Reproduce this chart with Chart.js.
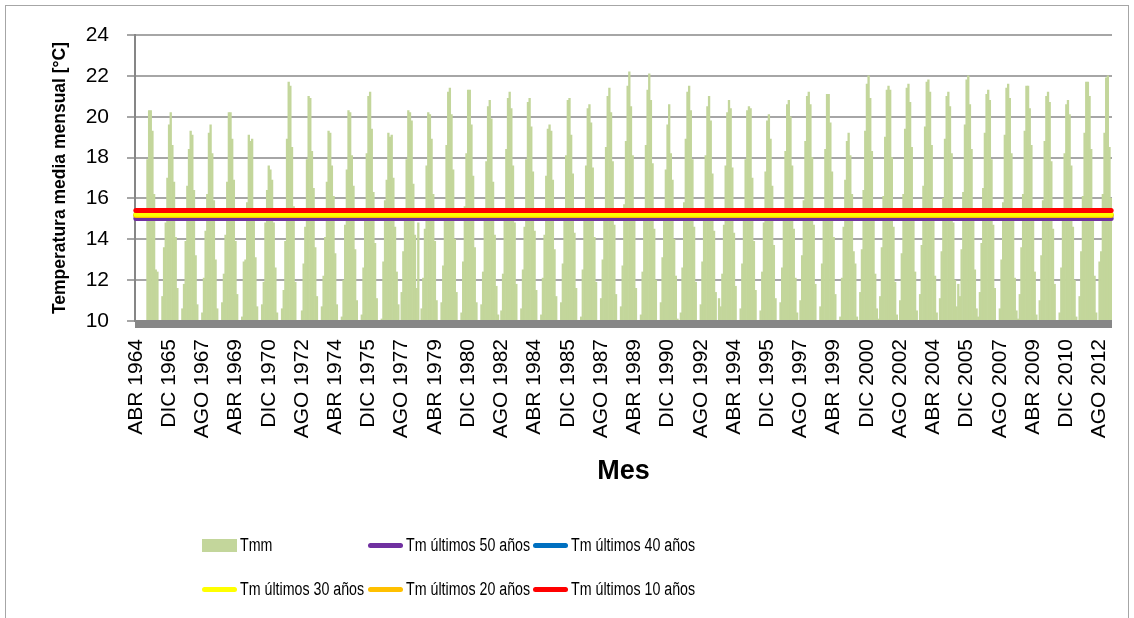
<!DOCTYPE html>
<html>
<head>
<meta charset="utf-8">
<script src="https://cdn.jsdelivr.net/npm/chart.js@4"></script>
<style>
  body { margin: 0; background: #fff; }
  #wrap { position: relative; width: 1134px; height: 618px; overflow: hidden; background: #fff; }
  #frame { position: absolute; left: 5px; top: 5px; width: 1122px; height: 700px; border: 1px solid #a6a6a6; pointer-events: none; }
  .leg { position: absolute; display: flex; align-items: center; font-family: 'Liberation Sans', sans-serif; font-size: 18px; color: #000; white-space: nowrap; }
  .leg .tx { display: inline-block; transform: scaleX(0.79); transform-origin: left center; }
  .sw { width: 35px; margin-right: 3px; flex: none; }
</style>
</head>
<body>
<div id="wrap">
  <canvas id="myChart" width="1134" height="618"></canvas>
  <div id="frame"></div>
  <div id="legend"></div>
</div>
<script>
// Month names and the start of the series (ABR 1964)
var months = ['ENE', 'FEB', 'MAR', 'ABR', 'MAY', 'JUN', 'JUL', 'AGO', 'SEP', 'OCT', 'NOV', 'DIC'];
var startYear = 1964;
var startMonth = 3;

// Tmm: monthly mean temperature, one line per year
var tmm = [
  null, null, null, null, null, null, null, 17.9, 20.3,                 // 1964 (ABR-DIC)
  20.3, 19.3, 16.2, 12.5, 12.4, 9.6, 9.2, 11.2, 13.6, 14.8, 17.0, 19.6, // 1965
  20.2, 18.6, 16.8, 14.1, 11.6, 9.3, 8.9, 10.6, 11.8, 13.9, 16.6, 18.4, // 1966
  19.3, 19.1, 16.4, 13.2, 10.8, 9.1, 9.4, 10.4, 12.1, 14.4, 16.2, 19.2, // 1967
  19.6, 18.2, 15.9, 13.0, 10.6, 8.8, 9.0, 10.9, 12.3, 14.2, 16.8, 20.2, // 1968
  20.2, 18.9, 16.9, 13.9, 11.3, 9.5, 9.2, 10.2, 12.9, 13.0, 15.8, 19.1, // 1969
  18.8, 18.9, 15.4, 13.1, 10.7, 9.4, 9.6, 10.8, 11.9, 14.8, 16.4, 17.6, // 1970
  17.4, 16.9, 14.8, 12.6, 10.4, 9.0, 9.3, 10.6, 11.5, 13.9, 18.9, 21.7, // 1971
  21.5, 18.5, 15.6, 11.9, 9.8, 9.2, 9.1, 10.5, 12.8, 14.6, 17.9, 21.0,  // 1972
  20.9, 18.3, 16.5, 13.6, 11.2, 9.4, 9.0, 10.7, 12.2, 14.1, 16.8, 19.3, // 1973
  19.2, 17.6, 16.1, 13.3, 10.8, 9.1, 9.3, 10.2, 12.0, 14.7, 17.4, 20.3, // 1974
  20.2, 18.1, 16.6, 13.5, 11.0, 9.6, 9.4, 10.3, 12.6, 15.0, 18.2, 21.0, // 1975
  21.2, 19.4, 16.3, 13.8, 11.1, 9.2, 8.9, 10.1, 12.9, 15.9, 16.9, 19.2, // 1976
  19.0, 19.1, 17.0, 14.6, 12.4, 10.8, 9.5, 11.4, 13.4, 15.2, 17.9, 20.3, // 1977
  20.2, 19.8, 16.7, 14.2, 11.6, 14.8, 9.3, 10.6, 12.1, 14.5, 17.6, 20.2, // 1978
  20.1, 18.9, 16.2, 13.9, 11.0, 9.6, 9.1, 10.9, 12.7, 15.3, 18.6, 21.2, // 1979
  21.4, 20.1, 17.4, 14.0, 11.4, 9.3, 9.5, 10.4, 12.9, 15.6, 18.2, 21.3, // 1980
  21.3, 19.6, 17.1, 13.6, 10.9, 9.2, 9.0, 10.8, 12.4, 14.9, 17.8, 20.5, // 1981
  20.8, 19.9, 16.8, 14.2, 11.7, 10.3, 9.6, 10.5, 12.3, 15.1, 18.4, 20.9, // 1982
  21.2, 20.4, 17.6, 14.8, 11.8, 9.4, 9.1, 10.6, 12.5, 14.6, 17.9, 20.7, // 1983
  20.9, 19.5, 17.3, 14.4, 11.5, 9.3, 9.4, 10.3, 12.1, 14.2, 17.1, 19.4, // 1984
  19.6, 19.3, 16.9, 13.5, 11.2, 9.6, 9.2, 10.9, 12.8, 15.5, 18.1, 20.8, // 1985
  20.9, 19.1, 17.2, 14.3, 11.6, 9.5, 9.3, 10.2, 12.5, 14.9, 17.6, 20.4, // 1986
  20.6, 19.7, 17.5, 14.1, 11.9, 9.8, 9.6, 11.1, 13.0, 15.4, 18.5, 21.0, // 1987
  21.4, 20.2, 17.8, 14.7, 11.3, 9.4, 9.2, 10.7, 12.7, 15.7, 18.8, 21.5, // 1988
  22.2, 20.5, 18.1, 14.9, 11.6, 9.5, 9.7, 10.3, 12.4, 15.2, 18.6, 21.3, // 1989
  22.1, 20.8, 17.7, 14.5, 12.0, 9.8, 9.3, 10.9, 13.1, 15.0, 17.4, 19.6, // 1990
  20.6, 18.2, 16.9, 14.0, 12.2, 10.1, 9.6, 10.4, 12.6, 15.8, 18.9, 21.2, // 1991
  21.5, 20.3, 17.9, 14.6, 11.9, 9.7, 9.4, 10.8, 12.9, 15.3, 18.1, 20.5, // 1992
  21.0, 19.8, 17.2, 14.4, 11.4, 9.6, 11.1, 10.7, 12.3, 14.7, 17.6, 20.2, // 1993
  20.8, 20.4, 17.5, 14.3, 11.7, 9.9, 9.5, 10.6, 12.8, 15.1, 17.9, 20.3, // 1994
  20.5, 20.4, 17.0, 13.9, 11.5, 9.4, 9.2, 10.5, 12.4, 14.8, 17.3, 19.8, // 1995
  20.1, 18.9, 16.6, 13.7, 11.1, 9.6, 9.3, 10.9, 12.6, 15.4, 18.3, 20.6, // 1996
  20.8, 20.0, 17.6, 14.5, 12.1, 10.4, 9.8, 11.0, 13.2, 15.9, 18.8, 21.0, // 1997
  21.2, 20.6, 18.0, 14.7, 11.8, 9.5, 9.6, 10.7, 12.8, 15.3, 18.4, 21.1, // 1998
  21.1, 19.7, 17.3, 14.1, 11.3, 9.3, 9.1, 10.2, 12.1, 14.6, 16.9, 18.8, // 1999
  19.2, 18.1, 16.2, 13.4, 12.8, 10.2, 9.7, 11.4, 13.5, 16.4, 19.3, 21.6, // 2000
  22.0, 20.9, 18.3, 14.9, 12.3, 10.6, 10.1, 11.2, 13.6, 16.1, 19.0, 21.3, // 2001
  21.5, 21.3, 18.0, 14.6, 11.9, 10.3, 9.9, 11.0, 13.3, 16.2, 19.4, 21.4, // 2002
  21.6, 20.7, 18.5, 15.1, 12.4, 10.5, 9.8, 11.3, 13.7, 16.6, 19.5, 21.7, // 2003
  21.8, 21.2, 18.6, 15.0, 12.2, 10.4, 9.9, 11.1, 13.4, 16.0, 18.9, 21.0, // 2004
  21.2, 20.5, 18.2, 14.8, 12.0, 10.7, 11.8, 11.2, 13.5, 16.3, 19.6, 21.8, // 2005
  22.0, 20.6, 18.4, 15.2, 12.5, 10.6, 10.2, 11.4, 13.8, 16.5, 19.2, 21.1, // 2006
  21.3, 20.8, 17.9, 14.7, 11.6, 9.7, 9.4, 10.6, 13.0, 15.8, 19.1, 21.4, // 2007
  21.6, 20.9, 18.2, 15.0, 12.1, 10.5, 10.1, 11.3, 13.6, 16.2, 19.3, 21.5, // 2008
  21.5, 20.4, 18.6, 15.3, 12.4, 10.3, 9.6, 11.0, 13.2, 15.9, 18.8, 21.0, // 2009
  21.2, 20.7, 17.8, 14.5, 11.8, 10.0, 9.5, 10.4, 12.6, 15.5, 18.2, 20.6, // 2010
  20.8, 20.1, 17.6, 14.6, 12.0, 10.2, 9.7, 11.2, 13.4, 16.1, 19.2, 21.7, // 2011
  21.7, 21.0, 18.4, 15.1, 12.2, 10.4, 9.6, 12.9, 13.4, 16.2, 19.2, 21.9, // 2012
  22.0, 18.5, 16.0                                                       // 2013 (ENE-MAR)
];

// Mean temperature lines
var tmNames = ['Tm últimos 50 años', 'Tm últimos 40 años', 'Tm últimos 30 años', 'Tm últimos 20 años', 'Tm últimos 10 años'];
var tmValues = [15.02, 15.19, 15.23, 15.16, 15.41];
var tmColors = ['#7030a0', '#0070c0', '#ffff00', '#ffc000', '#ff0000'];
var tmOrder = [5, 4, 2, 3, 1]; // drawing order, 1 = on top
var barColor = '#c3d69b';

// Category labels: "ABR 1964", "MAY 1964", ...
var labels = tmm.map(function (v, i) {
  var m = startMonth + i;
  return months[m % 12] + ' ' + (startYear + Math.floor(m / 12));
});

var datasets = [{
  type: 'bar',
  label: 'Tmm',
  data: tmm,
  backgroundColor: barColor,
  borderWidth: 0,
  barPercentage: 1,
  categoryPercentage: 1,
  order: 10
}];
tmNames.forEach(function (name, k) {
  datasets.push({
    type: 'line',
    label: name,
    data: [{x: labels[0], y: tmValues[k]}, {x: labels[labels.length - 1], y: tmValues[k]}],
    borderColor: tmColors[k],
    backgroundColor: tmColors[k],
    borderWidth: 5,
    borderCapStyle: 'round',
    pointRadius: 0,
    order: tmOrder[k]
  });
});

// thick grey horizontal axis band, drawn over the bar bases
var axisBand = {
  id: 'axisBand',
  afterDatasetsDraw: function (chart) {
    var ctx = chart.ctx, a = chart.chartArea;
    ctx.save();
    ctx.fillStyle = '#878787';
    ctx.fillRect(a.left, a.bottom - 1, a.right - a.left, 8);
    ctx.restore();
  }
};

var tickFont = {family: 'Liberation Sans', size: 21};

var config = {
  type: 'bar',
  data: {labels: labels, datasets: datasets},
  plugins: [axisBand],
  options: {
    responsive: false,
    animation: false,
    layout: {padding: {left: 0, top: 35, right: 22, bottom: 118}},
    plugins: {
      legend: {display: false},
      tooltip: {enabled: false}
    },
    scales: {
      x: {
        offset: true,
        grid: {display: false, drawTicks: false},
        border: {display: false},
        ticks: {
          autoSkip: false,
          maxRotation: 90,
          minRotation: 90,
          padding: 18,
          color: '#000',
          font: tickFont,
          callback: function (val, i) {
            return i % 20 === 0 ? this.getLabelForValue(val) : '';
          }
        },
        title: {
          display: true,
          text: 'Mes',
          color: '#000',
          font: {family: 'Liberation Sans', size: 27, weight: 'bold'},
          padding: {top: 0, bottom: 12}
        },
        afterFit: function (s) {
          s.height = 179;
          s.paddingLeft = 0;
          s.paddingRight = 0;
        }
      },
      y: {
        min: 10,
        max: 24,
        ticks: {stepSize: 2, padding: 18, color: '#000', font: tickFont},
        grid: {color: '#a6a6a6', lineWidth: 2, tickLength: 8},
        border: {color: '#868686', width: 2},
        title: {
          display: true,
          text: 'Temperatura media mensual [°C]',
          color: '#000',
          font: {family: 'Liberation Sans', size: 17.5, weight: 'bold'},
          padding: {top: 49.5, bottom: 0}
        },
        afterFit: function (s) { s.width = 135; }
      }
    }
  }
};

var myChart = new Chart(document.getElementById('myChart').getContext('2d'), config);

// Legend laid out in three columns like the original
var legendCols = [202, 368, 533];
var legendRows = [545, 589];
var legendItems = [{name: 'Tmm', color: barColor, box: true}].concat(tmNames.map(function (n, k) {
  return {name: n, color: tmColors[k], box: false};
}));
var legendEl = document.getElementById('legend');
legendItems.forEach(function (it, i) {
  var row = Math.floor(i / 3), col = i % 3;
  var item = document.createElement('div');
  item.className = 'leg';
  item.style.left = legendCols[col] + 'px';
  item.style.top = (legendRows[row] - 11) + 'px';
  item.style.height = '22px';
  var sw = document.createElement('span');
  sw.className = 'sw';
  sw.style.background = it.color;
  sw.style.height = it.box ? '13px' : '5px';
  sw.style.borderRadius = it.box ? '0' : '3px';
  var tx = document.createElement('span');
  tx.className = 'tx';
  tx.textContent = it.name;
  item.appendChild(sw);
  item.appendChild(tx);
  legendEl.appendChild(item);
});
</script>
</body>
</html>
